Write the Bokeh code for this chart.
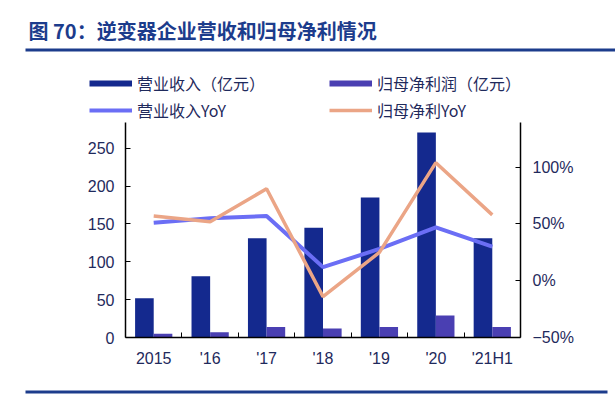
from bokeh.plotting import figure
from bokeh.layouts import column
from bokeh.models import (Range1d, LinearAxis, FixedTicker, Legend, LegendItem,
                          Label, BoxAnnotation, ColumnDataSource)
from bokeh.transform import dodge
from bokeh.embed import file_html
from bokeh.resources import INLINE

# ---- data ----
categories = ["2015", "'16", "'17", "'18", "'19", "'20", "'21H1"]
revenue = [52, 81, 131, 145, 185, 271, 131]          # 营业收入（亿元）
net_profit = [5, 7, 14, 12, 14, 29, 14]              # 归母净利润（亿元）
revenue_yoy = [51, 55, 57, 12, 28, 47, 30]           # 营业收入YoY (%)
profit_yoy = [57, 52, 81, -14, 25, 104, 58]          # 归母净利YoY (%)
left_ticks = [0, 50, 100, 150, 200, 250]
right_ticks = [-50, 0, 50, 100]
right_labels = ["\u221250%", "0%", "50%", "100%"]
title_text = "图 70：逆变器企业营收和归母净利情况"
legend_labels = ["营业收入（亿元）", "营业收入YoY", "归母净利润（亿元）", "归母净利YoY"]

REV = "#14298e"
NP = "#4a3fb2"
REV_Y = "#6b6ef5"
NP_Y = "#eba586"
NAVY = "#1f2a5c"
RULE = "#1c3c8c"
NAN = float("nan")

W = 615
HEAD_H, CHART_H, FOOT_H = 122, 253, 20


def blank(h):
    f = figure(width=W, height=h, output_backend="svg", toolbar_location=None,
               x_range=Range1d(0, W), y_range=Range1d(0, h),
               x_axis_type=None, y_axis_type=None, min_border=0, frame_align=False)
    f.outline_line_color = None
    f.background_fill_color = "white"
    f.border_fill_color = "white"
    return f


# ---------- header: title, rule, legend ----------
head = blank(HEAD_H)
head.add_layout(Label(x=28, y=HEAD_H - 30, x_units="screen", y_units="screen", text=title_text,
                      text_font="Noto Sans CJK SC", text_font_style="bold",
                      text_font_size="20px", text_color=RULE, text_baseline="middle"))
head.add_layout(BoxAnnotation(left=25, right=W, top=HEAD_H - 48, bottom=HEAD_H - 51,
                              left_units="screen", right_units="screen",
                              top_units="screen", bottom_units="screen",
                              fill_color=RULE, fill_alpha=1, line_color=None))
# legend-only renderers (no visible data)
s1 = head.line(x=[NAN], y=[NAN], line_color=REV, line_width=6)
s2 = head.line(x=[NAN], y=[NAN], line_color=REV_Y, line_width=4)
s3 = head.line(x=[NAN], y=[NAN], line_color=NP, line_width=6)
s4 = head.line(x=[NAN], y=[NAN], line_color=NP_Y, line_width=3.5)
common = dict(glyph_width=43, glyph_height=20, label_standoff=5, spacing=3, padding=4, margin=0,
              label_text_font="Noto Sans CJK SC", label_text_font_size="16px",
              label_text_color=NAVY, background_fill_alpha=0, border_line_color=None,
              orientation="vertical")
leg1 = Legend(items=[LegendItem(label=legend_labels[0], renderers=[s1]),
                     LegendItem(label=legend_labels[1], renderers=[s2])],
              location=(89, 0), **common)
leg2 = Legend(items=[LegendItem(label=legend_labels[2], renderers=[s3]),
                     LegendItem(label=legend_labels[3], renderers=[s4])],
              location=(329, 0), **common)
head.add_layout(leg1, "center")
head.add_layout(leg2, "center")

# ---------- chart ----------
xs = list(range(len(categories)))
src = ColumnDataSource(dict(x=xs, rev=revenue, np=net_profit, ry=revenue_yoy, py=profit_yoy))

p = figure(width=W, height=CHART_H, output_backend="svg", toolbar_location=None,
           x_range=Range1d(-0.5, len(categories) - 0.5), y_range=Range1d(0, 284.1),
           min_border_left=125, min_border_right=95, min_border_top=0, min_border_bottom=38,
           frame_align=False)
p.extra_y_ranges = {"pct": Range1d(-50, 139.4)}
p.xgrid.visible = False
p.ygrid.visible = False
p.outline_line_color = None
p.background_fill_color = "white"
p.border_fill_color = "white"

p.vbar(x=dodge("x", -0.165, range=p.x_range), top="rev", width=0.33, source=src,
       fill_color=REV, line_color=None)
p.vbar(x=dodge("x", 0.165, range=p.x_range), top="np", width=0.33, source=src,
       fill_color=NP, line_color=None)
p.line(x="x", y="ry", source=src, y_range_name="pct", line_color=REV_Y, line_width=4)
p.line(x="x", y="py", source=src, y_range_name="pct", line_color=NP_Y, line_width=3.5)

xa = p.xaxis[0]
xa.ticker = FixedTicker(ticks=xs, minor_ticks=[i + 0.5 for i in xs[:-1]])
xa.major_label_overrides = dict(zip(xs, categories))
ya = p.yaxis[0]
ya.ticker = FixedTicker(ticks=left_ticks)
yr = LinearAxis(y_range_name="pct", ticker=FixedTicker(ticks=right_ticks),
                major_label_overrides=dict(zip(right_ticks, right_labels)))
p.add_layout(yr, "right")

for ax in (xa, ya, yr):
    ax.axis_line_color = "black"
    ax.axis_line_width = 1.5
    ax.major_label_text_font = "Liberation Sans"
    ax.major_label_text_font_size = "16px"
    ax.major_label_text_color = NAVY
    ax.major_tick_line_color = "black"
    ax.major_tick_in = 5
    ax.major_tick_out = 0
    ax.minor_tick_in = 0
    ax.minor_tick_out = 0
    ax.major_label_standoff = 11
xa.major_tick_in = 0
xa.minor_tick_in = 5
xa.minor_tick_line_color = "black"
xa.major_label_standoff = 12
yr.major_label_standoff = 12

# ---------- footer rule ----------
foot = blank(FOOT_H)
foot.add_layout(BoxAnnotation(left=25, right=607, top=FOOT_H - 15, bottom=FOOT_H - 18,
                              left_units="screen", right_units="screen",
                              top_units="screen", bottom_units="screen",
                              fill_color=RULE, fill_alpha=1, line_color=None))

page = column(head, p, foot, spacing=0)
open("out.html", "w").write(file_html(page, INLINE))
